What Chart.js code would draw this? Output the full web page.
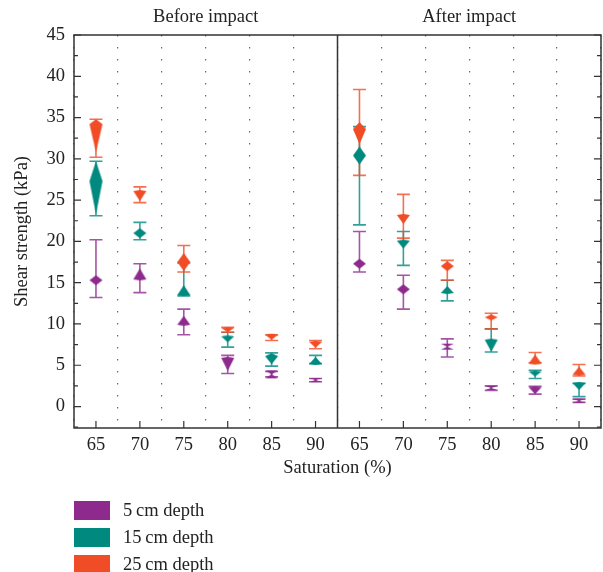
<!DOCTYPE html>
<html><head><meta charset="utf-8">
<script src="https://cdn.jsdelivr.net/npm/chart.js@4.4.0/dist/chart.umd.min.js"></script>
<style>
html,body{margin:0;padding:0;background:#fff;}
#wrap{position:relative;width:603px;height:572px;}
#legend{position:absolute;left:74px;top:497px;font-family:'Liberation Serif',serif;font-size:18.5px;color:#222;}
.row{display:flex;align-items:center;height:27px;}
.sw{width:36px;height:19px;margin-right:13px;}
</style></head><body>
<div id="wrap"><canvas id="c" width="603" height="572"></canvas><div id="legend"></div></div>
<script>
// ---- data ----
const saturation = ['65','70','75','80','85','90','65','70','75','80','85','90'];
const panelTitles = ['Before impact', 'After impact'];
const yTickValues = [0,5,10,15,20,25,30,35,40,45];
const seriesNames = ['5\u2009cm depth', '15\u2009cm depth', '25\u2009cm depth'];

const depth5     = [15.3, 15.4, 9.9, 5.9, 3.9, 3.2,   17.3, 14.2, 7.25, 2.25, 2.35, 0.7];
const depth5Low  = [13.2, 13.8, 8.7, 4.0, 3.6, 3.0,   16.3, 11.8, 6.0, 1.95, 1.5, 0.5];
const depth5High = [20.2, 17.3, 11.8, 6.2, 4.25, 3.4, 21.2, 15.9, 8.2, 2.5, 2.45, 0.9];

const depth15     = [27.3, 21.0, 13.5, 8.5, 6.1, 5.15,  30.4, 20.1, 13.75, 8.1, 4.25, 2.85];
const depth15Low  = [23.1, 20.2, 13.4, 7.2, 4.9, 5.2,   22.0, 17.1, 12.8, 6.6, 3.4, 1.2];
const depth15High = [29.7, 22.3, 17.4, 9.0, 6.5, 6.2,   33.9, 21.2, 15.3, 9.4, 4.4, 2.8];

const depth25     = [34.2, 26.1, 17.5, 9.5, 8.7, 7.85,  33.6, 23.2, 17.0, 10.8, 5.2, 3.85];
const depth25Low  = [30.2, 24.7, 16.3, 9.0, 8.0, 7.0,   28.0, 20.4, 15.3, 9.4, 5.3, 3.7];
const depth25High = [34.8, 26.6, 19.5, 9.6, 8.7, 8.0,   38.4, 25.7, 17.7, 11.3, 6.55, 5.1];

// ---- marker styles (shape: k = kite, x = hourglass; up/down extents in px) ----
const shape5  = ['k','k','k','k','x','x', 'k','k','x','x','k','x'];
const up5     = [5, 11, 9, 1, 4, 2,  5, 5, 3, 2, 1, 2];
const down5   = [5, 1, 1, 13, 4, 2,  5, 5, 3, 2, 7, 2];
const shape15 = ['k','k','k','k','k','k', 'k','k','k','k','k','k'];
const up15    = [20, 5, 10, 1, 3, 7,  9, 1, 7, 1, 1, 1];
const down15  = [33, 5, 1, 6, 8, 1,   9, 8, 1, 12, 5, 7];
const shape25 = ['k','k','k','k','k','k', 'k','k','k','k','k','k'];
const up25    = [5, 1, 9, 1, 1, 1,   7, 1, 5, 3, 9, 8];
const down25  = [28, 10, 9, 4, 5, 6,  15, 9, 5, 3, 1, 1];

const colors = ['#8E2A8E', '#00897F', '#F04C25'];
const barColors = ['rgba(142,42,142,0.8)', 'rgba(0,137,127,0.8)', 'rgba(240,76,37,0.8)'];
const FONT = "'Liberation Serif', 'Times New Roman', serif";
const FS = 18.5;

function makeMarker(shape, a, b, color, w) {
  const m = Math.max(a, b, 1);
  const c = document.createElement('canvas');
  c.width = w + 2; c.height = 2 * m + 2;
  const g = c.getContext('2d');
  const cx = c.width / 2, cy = c.height / 2, hw = w / 2;
  g.fillStyle = color;
  g.beginPath();
  if (shape === 'x') {
    g.moveTo(cx - hw, cy - a); g.lineTo(cx + hw, cy - a); g.lineTo(cx, cy);
    g.lineTo(cx + hw, cy + b); g.lineTo(cx - hw, cy + b); g.lineTo(cx, cy);
  } else {
    g.moveTo(cx, cy - a); g.lineTo(cx + hw, cy); g.lineTo(cx, cy + b); g.lineTo(cx - hw, cy);
  }
  g.closePath(); g.fill();
  return c;
}

const seriesVals = [depth5, depth15, depth25];
const seriesLow = [depth5Low, depth15Low, depth25Low];
const seriesHigh = [depth5High, depth15High, depth25High];
const shapes = [shape5, shape15, shape25];
const ups = [up5, up15, up25];
const downs = [down5, down15, down25];

const markers = seriesVals.map((vals, s) => vals.map((v, i) =>
  makeMarker(shapes[s][i], ups[s][i], downs[s][i], colors[s], 13)));

const errorBars = {
  id: 'errorBars',
  beforeDatasetsDraw(chart) {
    const {ctx, scales: {x, y}} = chart;
    ctx.save();
    ctx.lineWidth = 1.6;
    seriesLow.forEach((lows, s) => {
      ctx.strokeStyle = barColors[s];
      lows.forEach((lo, i) => {
        const px = x.getPixelForValue(i);
        const pl = y.getPixelForValue(lo), ph = y.getPixelForValue(seriesHigh[s][i]);
        ctx.beginPath();
        ctx.moveTo(px, pl); ctx.lineTo(px, ph);
        ctx.moveTo(px - 6.5, pl); ctx.lineTo(px + 6.5, pl);
        ctx.moveTo(px - 6.5, ph); ctx.lineTo(px + 6.5, ph);
        ctx.stroke();
      });
    });
    ctx.restore();
  }
};

const frame = {
  id: 'frame',
  afterDraw(chart) {
    const {ctx, chartArea: a, scales: {x, y}} = chart;
    ctx.save();
    ctx.strokeStyle = '#333';
    ctx.lineWidth = 1.5;
    const mid = (x.getPixelForValue(5) + x.getPixelForValue(6)) / 2;
    ctx.beginPath(); ctx.moveTo(mid, a.top); ctx.lineTo(mid, a.bottom); ctx.stroke();
    ctx.lineWidth = 1.2;
    ctx.beginPath();
    for (let v = -2.5; v <= 45; v += 2.5) {
      const py = y.getPixelForValue(v);
      if (py > a.bottom) continue;
      const len = (Math.abs(v % 5) < 1e-6) ? 7 : 4;
      ctx.moveTo(a.left, py); ctx.lineTo(a.left + len, py);
      ctx.moveTo(a.right, py); ctx.lineTo(a.right - len, py);
    }
    for (let i = 0; i < saturation.length; i++) {
      const px = x.getPixelForValue(i);
      ctx.moveTo(px, a.bottom); ctx.lineTo(px, a.bottom - 7);
    }
    ctx.stroke();
    ctx.lineWidth = 1.5;
    ctx.strokeRect(a.left, a.top, a.right - a.left, a.bottom - a.top);
    ctx.fillStyle = '#222';
    ctx.font = FS + 'px ' + FONT;
    ctx.textAlign = 'center';
    ctx.textBaseline = 'middle';
    ctx.fillText(panelTitles[0], (a.left + mid) / 2, 17);
    ctx.fillText(panelTitles[1], (mid + a.right) / 2, 17);
    ctx.restore();
  }
};

new Chart(document.getElementById('c'), {
  type: 'line',
  data: {
    labels: saturation,
    datasets: seriesVals.map((vals, s) => ({
      label: seriesNames[s],
      data: vals,
      showLine: false,
      borderColor: colors[s],
      backgroundColor: colors[s],
      pointStyle: markers[s],
      pointRadius: 6,
      pointHoverRadius: 6
    }))
  },
  options: {
    responsive: false,
    animation: false,
    events: [],
    layout: {autoPadding: false, padding: {top: 35, right: 2, bottom: 90, left: 0}},
    plugins: {legend: {display: false}, tooltip: {enabled: false}},
    scales: {
      x: {
        type: 'category',
        offset: true,
        grid: {display: true, drawTicks: false, color: '#666', lineWidth: 1.2, offset: true},
        border: {display: false, dash: [1.5, 10.5]},
        ticks: {font: {family: FONT, size: FS}, color: '#222', padding: 6, maxRotation: 0, autoSkip: false},
        title: {display: true, text: 'Saturation (%)', font: {family: FONT, size: FS}, color: '#222', padding: {top: 4, bottom: 3}},
        afterFit(s) { s.height = 54; s.paddingLeft = 0; s.paddingRight = 0; }
      },
      y: {
        type: 'linear',
        min: -2.6,
        max: 45,
        afterBuildTicks(s) { s.ticks = yTickValues.map(v => ({value: v})); },
        grid: {display: false, drawTicks: false},
        border: {display: false},
        ticks: {font: {family: FONT, size: FS}, color: '#222', padding: 9},
        title: {display: true, text: 'Shear strength (kPa)', font: {family: FONT, size: FS}, color: '#222', padding: {top: 11, bottom: 4}},
        afterFit(s) { s.width = 74; s.paddingTop = 0; s.paddingBottom = 0; }
      }
    }
  },
  plugins: [errorBars, frame]
});

const lg = document.getElementById('legend');
seriesNames.forEach((n, s) => {
  const r = document.createElement('div'); r.className = 'row';
  const b = document.createElement('div'); b.className = 'sw'; b.style.background = colors[s];
  const t = document.createElement('span'); t.textContent = n;
  r.appendChild(b); r.appendChild(t); lg.appendChild(r);
});
</script>
</body></html>
